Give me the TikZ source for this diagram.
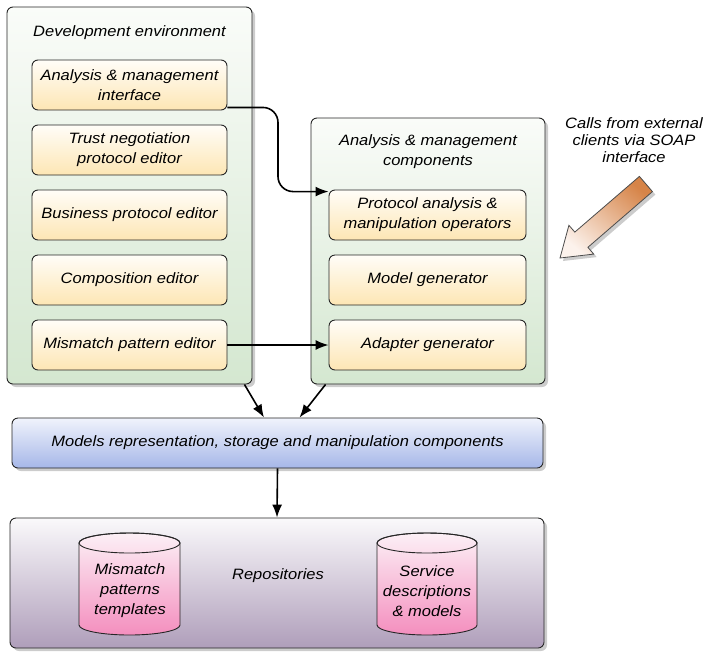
\documentclass[tikz,border=0pt]{standalone}
\usepackage{fontspec}
\setmainfont{Liberation Sans}[FakeStretch=1.1]
\usetikzlibrary{shadows,arrows.meta,calc}
\definecolor{grnbot}{RGB}{212,231,208}
\definecolor{grntop}{RGB}{250,252,249}
\definecolor{yelbot}{RGB}{253,230,180}
\definecolor{yeltop}{RGB}{255,253,248}
\definecolor{blutop}{RGB}{240,243,252}
\definecolor{blubot}{RGB}{166,183,232}
\definecolor{reptop}{RGB}{250,249,251}
\definecolor{repbot}{RGB}{175,158,186}
\definecolor{cyltop}{RGB}{252,240,246}
\definecolor{cylbot}{RGB}{244,142,190}
\definecolor{arrdark}{RGB}{214,132,72}
\definecolor{arrlight}{RGB}{252,242,236}
\tikzset{
  txt/.style={font=\fontsize{15}{20}\selectfont\itshape, align=center},
  shad/.style={drop shadow={opacity=0.4, shadow xshift=3pt, shadow yshift=-3pt}},
  outerbox/.style={draw=black!85, line width=0.9pt, rounded corners=6pt, top color=grntop, bottom color=grnbot, shad},
  innerbox/.style={txt, draw=black!85, line width=0.9pt, rounded corners=6pt, top color=yeltop, bottom color=yelbot, minimum width=195pt, minimum height=50pt, inner sep=0pt},
  conn/.style={line width=1.6pt, -{Latex[length=13pt,width=10pt]}},
}
\begin{document}
\begin{tikzpicture}[x=1pt,y=-1pt]
\useasboundingbox (0,0) rectangle (708,651);
% outer boxes
\node[outerbox, minimum width=245pt, minimum height=377pt] (dev) at (129.5,195.5) {};
\node[txt] (devt) at (129.5,33) {Development environment};
\node[outerbox, minimum width=234pt, minimum height=266pt] (amc) at (428,251) {};
\node[txt] (amct) at (428,152) {Analysis \& management\\components};
% inner boxes
\node[innerbox] (ami) at (129.5,85) {Analysis \& management\\interface};
\node[innerbox] (tne) at (129.5,150) {Trust negotiation\\protocol editor};
\node[innerbox] (bpe) at (129.5,215) {Business protocol editor};
\node[innerbox] (ce)  at (129.5,280) {Composition editor};
\node[innerbox] (mpe) at (129.5,345) {Mismatch pattern editor};
\node[innerbox, minimum width=197pt] (pamo) at (427.5,215) {Protocol analysis \&\\manipulation operators};
\node[innerbox, minimum width=197pt] (mg) at (427.5,280) {Model generator};
\node[innerbox, minimum width=197pt] (ag) at (427.5,345) {Adapter generator};
% models
\node[txt, draw=black!85, line width=0.9pt, rounded corners=6pt, top color=blutop, bottom color=blubot, minimum width=531pt, minimum height=50pt, shad] (models) at (277.5,443) {Models representation, storage and manipulation components};
% repositories
\node[draw=black!85, line width=0.9pt, rounded corners=6pt, top color=reptop, bottom color=repbot, minimum width=534pt, minimum height=130pt, shad] (repo) at (277,583) {};
\node[txt] (repot) at (278,576) {Repositories};
% cylinders
\shade[top color=cyltop, bottom color=cylbot, draw=black!85, line width=0.9pt]
  (79,543) -- (79,625) arc[start angle=180,end angle=360,x radius=50.5pt,y radius=10pt]
  -- (180,543) arc[start angle=0,end angle=180,x radius=50.5pt,y radius=10pt] -- cycle;
\draw[black!85, line width=0.9pt] (129.5,543) ellipse[x radius=50.5pt, y radius=10pt];
\node[txt] (mpt) at (130,591) {Mismatch\\patterns\\templates};
\shade[top color=cyltop, bottom color=cylbot, draw=black!85, line width=0.9pt]
  (377,543) -- (377,625) arc[start angle=180,end angle=360,x radius=50pt,y radius=10pt]
  -- (477,543) arc[start angle=0,end angle=180,x radius=50pt,y radius=10pt] -- cycle;
\draw[black!85, line width=0.9pt] (427,543) ellipse[x radius=50pt, y radius=10pt];
\node[txt] (sdm) at (427,591) {Service\\descriptions\\\& models};
% external calls
\node[font=\fontsize{15}{17}\selectfont\itshape, align=center] (calls) at (634,140) {Calls from external\\clients via SOAP\\interface};
\shade[top color=arrdark, bottom color=arrlight, shading angle=-40, draw=black!70, line width=0.8pt,
  drop shadow={opacity=0.4, shadow xshift=3pt, shadow yshift=-3pt}]
  (560,258) -- (568.9,225.3) -- (574.8,232.1) -- (639.4,176.4) -- (652.4,191.6)
  -- (587.9,247.3) -- (593.7,254.1) -- cycle;
% connectors
\draw[conn, rounded corners=15pt] ([yshift=3pt]ami.south east) -| ($(ami.east)!0.5!(pamo.west)$) |- ([yshift=-2pt]pamo.north west);
\draw[conn] (mpe.east) -- (ag.west);
\draw[conn] ($(dev.south east)+(-8,0)$) -- ($(models.north)+(-13.5,0)$);
\draw[conn] ($(amc.south west)+(15,0)$) -- ($(models.north)+(22,0)$);
\draw[conn] (models.south) -- (repo.north);
\end{tikzpicture}
\end{document}
